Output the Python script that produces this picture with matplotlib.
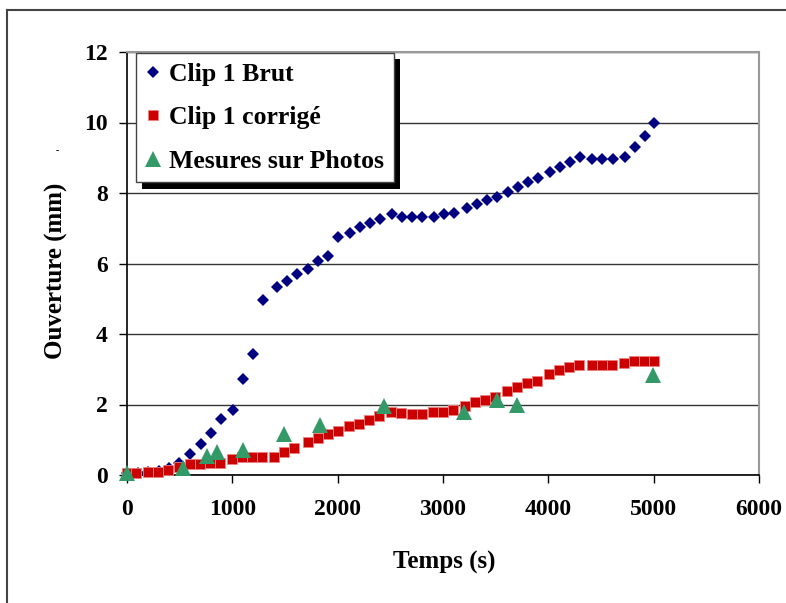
import matplotlib
matplotlib.use("Agg")
import matplotlib.pyplot as plt
from matplotlib.lines import Line2D
from matplotlib import patheffects as pe

# Clip 1 brut
t_brut = [0, 100, 200, 300, 400, 495, 600, 700, 800, 895, 1010, 1105, 1200, 1295,
          1420, 1515, 1610, 1714, 1810, 1905, 2000, 2114, 2210, 2305, 2400, 2514,
          2610, 2705, 2800, 2914, 3010, 3105, 3229, 3324, 3419, 3514, 3619, 3714,
          3810, 3905, 4019, 4114, 4210, 4305, 4419, 4514, 4610, 4724, 4819, 4914, 5000]
y_brut = [0.05, 0.05, 0.08, 0.1, 0.2, 0.33, 0.6, 0.88, 1.19, 1.6, 1.84, 2.72, 3.43, 4.96,
          5.34, 5.5, 5.7, 5.84, 6.07, 6.21, 6.75, 6.87, 7.04, 7.15, 7.26, 7.4,
          7.32, 7.32, 7.32, 7.32, 7.4, 7.44, 7.57, 7.69, 7.8, 7.89, 8.03, 8.17,
          8.3, 8.43, 8.6, 8.74, 8.87, 9.02, 8.97, 8.97, 8.97, 9.02, 9.3, 9.62, 10.0]

# Clip 1 corrigé
t_corr = [0, 90, 200, 295, 390, 495, 600, 695, 790, 886, 1000, 1095, 1190, 1286,
          1400, 1495, 1590, 1714, 1810, 1905, 2000, 2105, 2200, 2295, 2390, 2505,
          2600, 2705, 2800, 2905, 3000, 3095, 3210, 3305, 3400, 3495, 3610, 3705,
          3800, 3895, 4010, 4105, 4200, 4295, 4410, 4505, 4600, 4714, 4810, 4905, 5000]
y_corr = [0.05, 0.05, 0.08, 0.08, 0.14, 0.23, 0.31, 0.31, 0.34, 0.34, 0.45, 0.51, 0.51, 0.51,
          0.51, 0.65, 0.77, 0.94, 1.05, 1.16, 1.26, 1.39, 1.45, 1.56, 1.67, 1.79,
          1.76, 1.73, 1.73, 1.79, 1.79, 1.84, 1.96, 2.07, 2.12, 2.21, 2.38, 2.5,
          2.61, 2.67, 2.86, 2.98, 3.06, 3.12, 3.12, 3.12, 3.12, 3.18, 3.23, 3.23, 3.23]

# Mesures sur photos
t_photo = [0, 533, 762, 857, 1105, 1486, 1829, 2438, 3200, 3514, 3705, 4990]
y_photo = [0.05, 0.2, 0.54, 0.65, 0.71, 1.15, 1.43, 1.96, 1.79, 2.13, 2.0, 2.85]

labels = ['Clip 1 Brut', 'Clip 1 corrigé', 'Mesures sur Photos']
x_ticks = [0, 1000, 2000, 3000, 4000, 5000, 6000]
y_ticks = [0, 2, 4, 6, 8, 10, 12]

plt.rcParams['font.family'] = ['Liberation Serif', 'DejaVu Serif']
plt.rcParams['font.weight'] = 'bold'

W, H = 786, 603
fig = plt.figure(figsize=(W / 100, H / 100), dpi=100)
ax = fig.add_axes([127 / W, 1 - 475 / H, 632 / W, 423 / H])

ax.plot(t_brut, y_brut, linestyle='none', marker='D', markersize=6.3,
        color='#000080', markeredgewidth=0, label=labels[0], zorder=3, clip_on=False)
ax.plot(t_corr, y_corr, linestyle='none', marker='s', markersize=7.2,
        color='#CC0000', markeredgecolor='#F08080', markeredgewidth=0.6,
        label=labels[1], zorder=4, clip_on=False)
ax.plot(t_photo, y_photo, linestyle='none', marker='^', markersize=11,
        color='#339966', markeredgewidth=0, label=labels[2], zorder=5, clip_on=False)

ax.set_xlim(0, 6000)
ax.set_ylim(0, 12)
ax.set_xticks(x_ticks)
ax.set_yticks(y_ticks)
ax.tick_params(axis='both', direction='out', length=6, width=1, color='black',
               labelsize=17)
ax.tick_params(axis='x', pad=11)
ax.tick_params(axis='y', pad=8)
ax.yaxis.grid(True, color='#333333', linewidth=1)
ax.set_axisbelow(True)

for s in ['left', 'bottom']:
    ax.spines[s].set_color('black')
    ax.spines[s].set_linewidth(1.2)
for s in ['top', 'right']:
    ax.spines[s].set_color('#999999')
    ax.spines[s].set_linewidth(1.5)

ax.set_xlabel('Temps (s)', fontsize=18, fontweight='bold', va='center')
ax.set_ylabel('Ouverture (mm)', fontsize=18, fontweight='bold', va='center')
ax.xaxis.set_label_coords(0.502, -0.206)
ax.yaxis.set_label_coords(-0.111, 0.482)

leg = ax.legend(loc='upper left', bbox_to_anchor=(0.014, 0.998), borderaxespad=0,
                fontsize=18.5, numpoints=1, handlelength=0.6, handletextpad=0.32,
                labelspacing=0.8, borderpad=0.38, fancybox=False,
                edgecolor='#444444', framealpha=1)
leg.get_frame().set_linewidth(1)
leg.get_frame().set_path_effects([
    pe.SimplePatchShadow(offset=(4.5, -4.5), shadow_rgbFace='black', alpha=1),
    pe.Normal()])

# small stray mark near the y label
fig.text(57 / W, 1 - 151 / H, '-', fontsize=7, ha='center', va='center')

# outer chart frame (left and top edges visible)
fig.add_artist(Line2D([7 / W, 7 / W], [0, 1 - 10 / H], transform=fig.transFigure,
                      color='#444444', linewidth=1.5))
fig.add_artist(Line2D([7 / W, 1], [1 - 10 / H, 1 - 10 / H], transform=fig.transFigure,
                      color='#444444', linewidth=1.5))

fig.savefig('out.png', dpi=100)
